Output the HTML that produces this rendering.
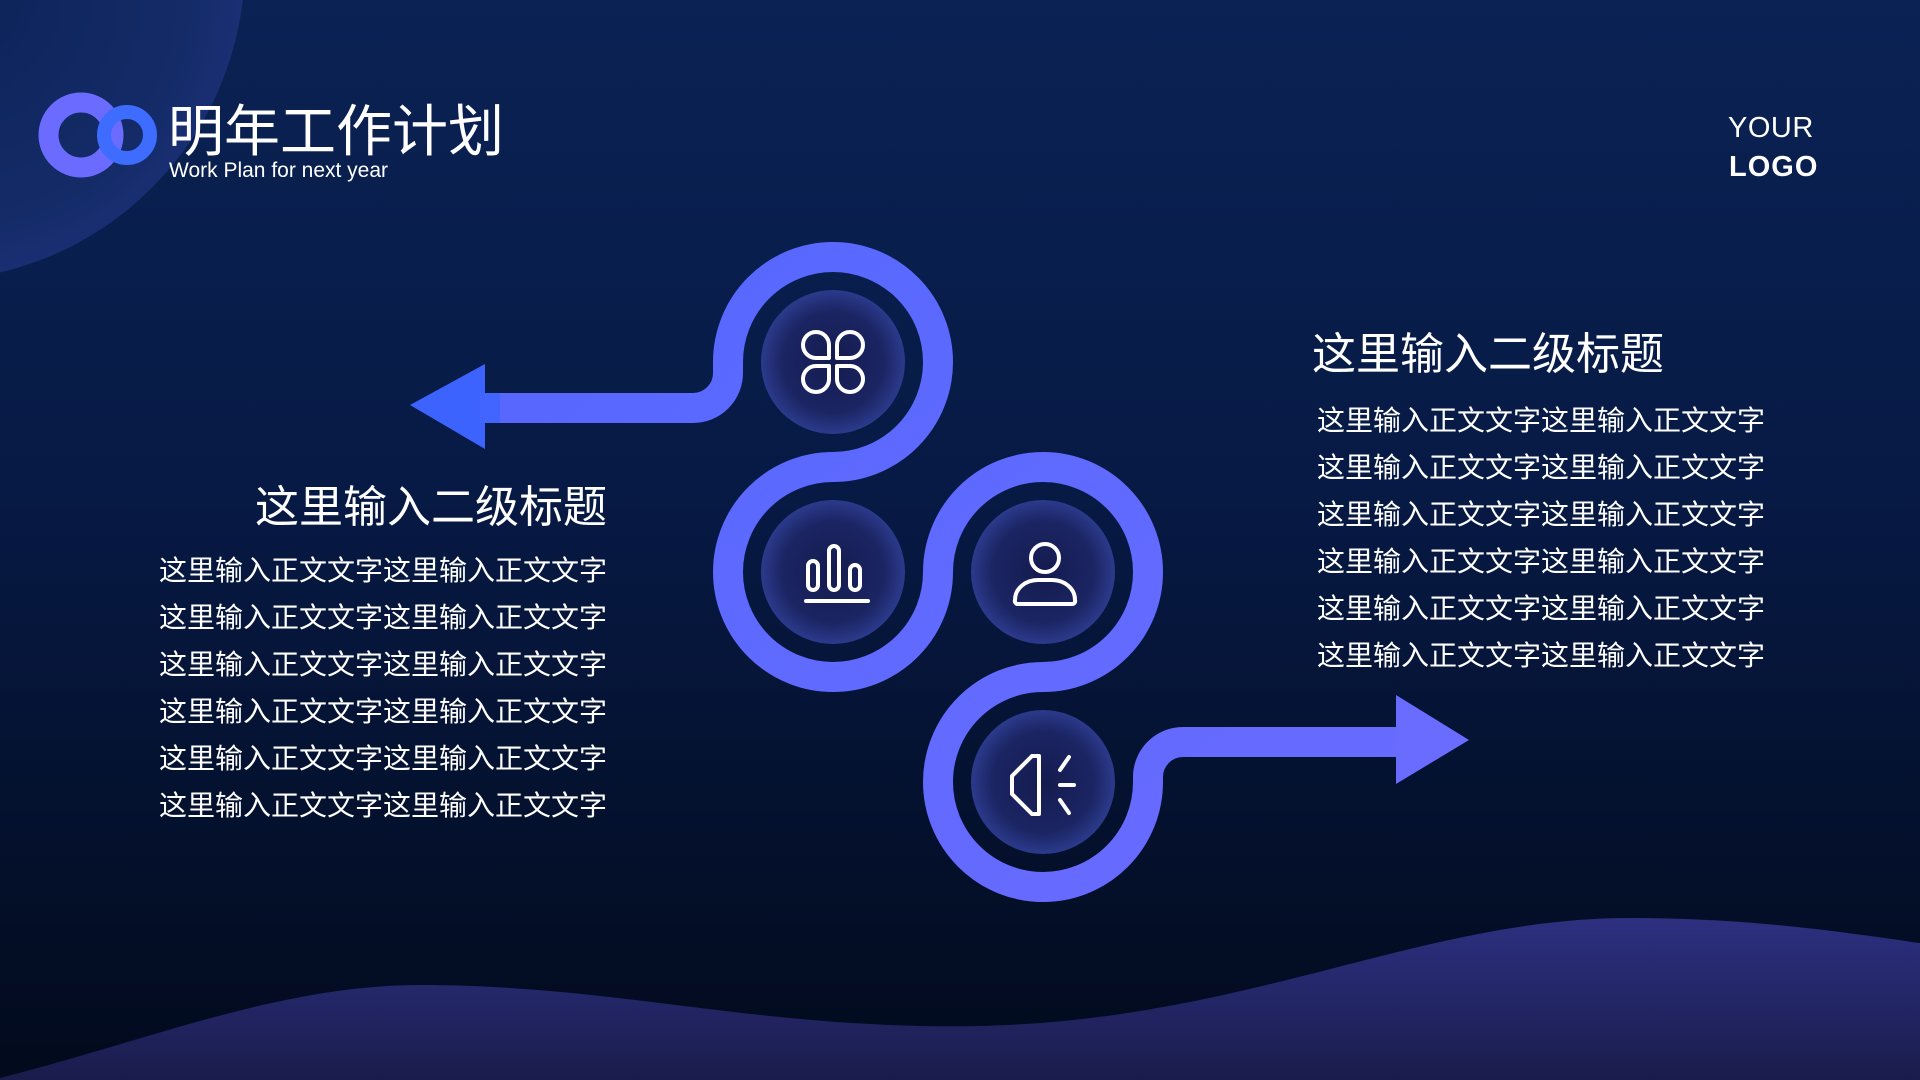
<!DOCTYPE html>
<html><head><meta charset="utf-8"><style>
html,body{margin:0;padding:0;}
body{width:1920px;height:1080px;overflow:hidden;position:relative;background:linear-gradient(180deg,#0a2254 0%,#071a45 45%,#020a1c 100%);font-family:"Liberation Sans","Noto Sans CJK SC",sans-serif;color:#fff;}
.t{position:absolute;white-space:nowrap;line-height:1;}
.cn{font-family:"Liberation Sans","Noto Sans CJK SC",sans-serif;}
</style></head><body>
<svg width="1920" height="1080" style="position:absolute;left:0;top:0">
<defs>
<radialGradient id="tl" cx="0.55" cy="0.55" r="0.6">
<stop offset="0" stop-color="#0c2358"/><stop offset="0.6" stop-color="#142b68"/><stop offset="1" stop-color="#24378a"/>
</radialGradient>
<linearGradient id="wave" x1="0" y1="0" x2="0" y2="1">
<stop offset="0" stop-color="#2c3080"/><stop offset="1" stop-color="#1a1c4c"/>
</linearGradient>
<radialGradient id="dot" cx="0.5" cy="0.5" r="0.5">
<stop offset="0" stop-color="#141b4e"/><stop offset="0.7" stop-color="#1b2563"/><stop offset="1" stop-color="#2b3a8c"/>
</radialGradient>
<linearGradient id="band" x1="0" y1="0" x2="1" y2="1">
<stop offset="0" stop-color="#5568ff"/><stop offset="1" stop-color="#6a6bff"/>
</linearGradient>
</defs>
<circle cx="-73" cy="-37" r="318" fill="url(#tl)"/>
<path d="M0,1078 C150,1040 280,985 420,985 C620,985 760,1030 980,1026 C1250,1020 1420,918 1630,918 C1760,918 1860,935 1920,943 L1920,1080 L0,1080 Z" fill="url(#wave)"/>
<circle cx="81" cy="135" r="32.5" fill="none" stroke="#6b6cff" stroke-width="20"/>
<circle cx="127" cy="135" r="23" fill="none" stroke="#3d6cff" stroke-width="14"/>
<path d="M485,408 L693,408 A35 35 0 0 0 728,373 L728,362 A105 105 0 0 1 938,362 A105 105 0 0 1 833,467 A105 105 0 0 0 728,572 A105 105 0 0 0 938,572 A105 105 0 0 1 1148,572 A105 105 0 0 1 1043,677 A105 105 0 0 0 938,782 A105 105 0 0 0 1148,782 L1148,777 A35 35 0 0 1 1183,742 L1400,742" fill="none" stroke="url(#band)" stroke-width="30"/>
<polygon points="410,405 485,364 485,449" fill="#3d63ff"/>
<rect x="480" y="393" width="20" height="30" fill="#4264ff"/>
<polygon points="1469,740 1396,695 1396,784" fill="#6a6bff"/>
<circle cx="833" cy="362" r="72" fill="url(#dot)"/>
<circle cx="833" cy="572" r="72" fill="url(#dot)"/>
<circle cx="1043" cy="572" r="72" fill="url(#dot)"/>
<circle cx="1043" cy="782" r="72" fill="url(#dot)"/>
<g fill="none" stroke="#fff" stroke-width="4" stroke-linecap="round" stroke-linejoin="round">
<path d="M829,358 L816,358 A13 13 0 1 1 829,345 Z"/>
<path d="M837,358 L850,358 A13 13 0 1 0 837,345 Z"/>
<path d="M829,366 L816,366 A13 13 0 1 0 829,379 Z"/>
<path d="M837,366 L850,366 A13 13 0 1 1 837,379 Z"/>
<rect x="808" y="561" width="10" height="29" rx="5"/>
<rect x="829" y="546" width="10" height="44" rx="5"/>
<rect x="850" y="565" width="10" height="25" rx="5"/>
<line x1="806" y1="601" x2="868" y2="601"/>
<circle cx="1045" cy="558" r="14"/>
<path d="M1018,604 L1072,604 A3 3 0 0 0 1075,600 C1075,588 1064,580 1052,580 L1038,580 C1026,580 1015,588 1015,600 A3 3 0 0 0 1018,604 Z"/>
<path d="M1039,756 L1039,814 L1032,814 L1012,794 L1012,776 L1032,756 Z"/>
<line x1="1060" y1="770" x2="1069" y2="757"/>
<line x1="1060" y1="785" x2="1074" y2="785"/>
<line x1="1060" y1="800" x2="1069" y2="813"/>
</g>
</svg>
<div class="t cn" style="left:168px;top:104px;font-size:56px;">明年工作计划</div>
<div class="t" style="left:169px;top:160px;font-size:21px;">Work Plan for next year</div>
<div class="t" style="left:1728px;top:114px;font-size:29px;font-weight:300;letter-spacing:0.5px;">YOUR</div>
<div class="t" style="left:1729px;top:153px;font-size:29px;font-weight:bold;letter-spacing:1px;">LOGO</div>
<div class="t cn" style="right:1313px;top:486px;font-size:44px;">这里输入二级标题</div>
<div class="t cn" style="left:159px;top:547px;font-size:28px;line-height:47px;">这里输入正文文字这里输入正文文字<br>这里输入正文文字这里输入正文文字<br>这里输入正文文字这里输入正文文字<br>这里输入正文文字这里输入正文文字<br>这里输入正文文字这里输入正文文字<br>这里输入正文文字这里输入正文文字</div>
<div class="t cn" style="left:1312px;top:333px;font-size:44px;">这里输入二级标题</div>
<div class="t cn" style="left:1317px;top:397px;font-size:28px;line-height:47px;">这里输入正文文字这里输入正文文字<br>这里输入正文文字这里输入正文文字<br>这里输入正文文字这里输入正文文字<br>这里输入正文文字这里输入正文文字<br>这里输入正文文字这里输入正文文字<br>这里输入正文文字这里输入正文文字</div>
</body></html>
